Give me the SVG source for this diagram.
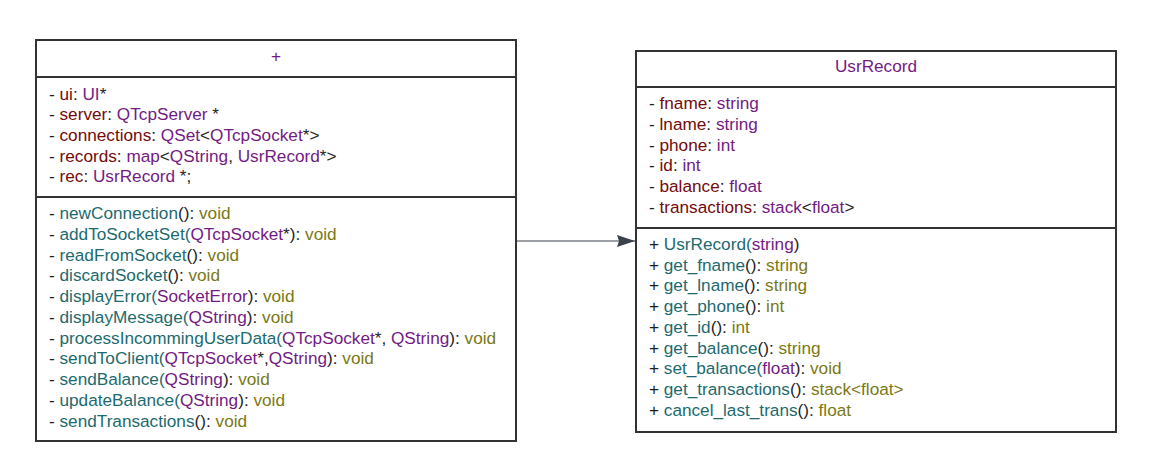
<svg xmlns="http://www.w3.org/2000/svg" width="1158" height="466" viewBox="0 0 1158 466">
<style>
.box{fill:#ffffff;stroke:#333333;stroke-width:2}
.div{stroke:#333333;stroke-width:2}
text{font-family:"Liberation Sans",Arial,sans-serif;font-size:17.2px;fill:#1e1e1e}
.title{text-anchor:middle}
.n{fill:#740a0a}
.ty{fill:#731b84}
.m{fill:#1d6a6e}
.r{fill:#7a7814}
.conn{stroke:#3a414a;stroke-width:1.2;fill:none}
</style>
<defs>
<marker id="arr" viewBox="0 0 18 12" refX="18" refY="6" markerWidth="18" markerHeight="12" markerUnits="userSpaceOnUse" orient="auto">
<path d="M0,0 L18,6 L0,12 L2,6 Z" fill="#3a414a"/>
</marker>
</defs>
<rect width="1158" height="466" fill="#ffffff"/>
<g id="connectors">
<line class="conn" x1="517" y1="241" x2="635" y2="241" marker-end="url(#arr)"/>
</g>
<g id="server-class">
<rect class="box" x="36" y="40" width="480" height="401"/>
<line class="div" x1="36" y1="77" x2="516" y2="77"/>
<line class="div" x1="36" y1="197" x2="516" y2="197"/>
<text class="title ty" x="276" y="62">+</text>
<text x="49" y="99.5">- <tspan class="n">ui</tspan>: <tspan class="ty">UI</tspan>*</text>
<text x="49" y="120.2">- <tspan class="n">server</tspan>: <tspan class="ty">QTcpServer</tspan> *</text>
<text x="49" y="140.9">- <tspan class="n">connections</tspan>: <tspan class="ty">QSet</tspan>&lt;<tspan class="ty">QTcpSocket</tspan>*&gt;</text>
<text x="49" y="161.6">- <tspan class="n">records</tspan>: <tspan class="ty">map</tspan>&lt;<tspan class="ty">QString</tspan>, <tspan class="ty">UsrRecord</tspan>*&gt;</text>
<text x="49" y="182.3">- <tspan class="n">rec</tspan>: <tspan class="ty">UsrRecord</tspan> *;</text>
<text x="49" y="219">- <tspan class="m">newConnection</tspan>(): <tspan class="r">void</tspan></text>
<text x="49" y="239.8">- <tspan class="m">addToSocketSet(</tspan><tspan class="ty">QTcpSocket</tspan>*): <tspan class="r">void</tspan></text>
<text x="49" y="260.5">- <tspan class="m">readFromSocket</tspan>(): <tspan class="r">void</tspan></text>
<text x="49" y="281.3">- <tspan class="m">discardSocket</tspan>(): <tspan class="r">void</tspan></text>
<text x="49" y="302.1">- <tspan class="m">displayError(</tspan><tspan class="ty">SocketError</tspan>): <tspan class="r">void</tspan></text>
<text x="49" y="322.9">- <tspan class="m">displayMessage(</tspan><tspan class="ty">QString</tspan>): <tspan class="r">void</tspan></text>
<text x="49" y="343.6">- <tspan class="m">processIncommingUserData(</tspan><tspan class="ty">QTcpSocket</tspan>*, <tspan class="ty">QString</tspan>): <tspan class="r">void</tspan></text>
<text x="49" y="364.4">- <tspan class="m">sendToClient(</tspan><tspan class="ty">QTcpSocket</tspan>*,<tspan class="ty">QString</tspan>): <tspan class="r">void</tspan></text>
<text x="49" y="385.2">- <tspan class="m">sendBalance(</tspan><tspan class="ty">QString</tspan>): <tspan class="r">void</tspan></text>
<text x="49" y="405.9">- <tspan class="m">updateBalance(</tspan><tspan class="ty">QString</tspan>): <tspan class="r">void</tspan></text>
<text x="49" y="426.7">- <tspan class="m">sendTransactions</tspan>(): <tspan class="r">void</tspan></text>
</g>
<g id="usrrecord-class">
<rect class="box" x="636" y="51" width="480" height="381"/>
<line class="div" x1="636" y1="87" x2="1116" y2="87"/>
<line class="div" x1="636" y1="228" x2="1116" y2="228"/>
<text class="title ty" x="876" y="72.3">UsrRecord</text>
<text x="649" y="109.3">- <tspan class="n">fname</tspan>: <tspan class="ty">string</tspan></text>
<text x="649" y="130">- <tspan class="n">lname</tspan>: <tspan class="ty">string</tspan></text>
<text x="649" y="150.7">- <tspan class="n">phone</tspan>: <tspan class="ty">int</tspan></text>
<text x="649" y="171.4">- <tspan class="n">id</tspan>: <tspan class="ty">int</tspan></text>
<text x="649" y="192">- <tspan class="n">balance</tspan>: <tspan class="ty">float</tspan></text>
<text x="649" y="212.7">- <tspan class="n">transactions</tspan>: <tspan class="ty">stack</tspan>&lt;<tspan class="ty">float</tspan>&gt;</text>
<text x="649" y="250">+ <tspan class="m">UsrRecord(</tspan><tspan class="ty">string</tspan>)</text>
<text x="649" y="270.7">+ <tspan class="m">get_fname</tspan>(): <tspan class="r">string</tspan></text>
<text x="649" y="291.4">+ <tspan class="m">get_lname</tspan>(): <tspan class="r">string</tspan></text>
<text x="649" y="312.1">+ <tspan class="m">get_phone</tspan>(): <tspan class="r">int</tspan></text>
<text x="649" y="332.8">+ <tspan class="m">get_id</tspan>(): <tspan class="r">int</tspan></text>
<text x="649" y="353.6">+ <tspan class="m">get_balance</tspan>(): <tspan class="r">string</tspan></text>
<text x="649" y="374.3">+ <tspan class="m">set_balance(</tspan><tspan class="ty">float</tspan>): <tspan class="r">void</tspan></text>
<text x="649" y="395">+ <tspan class="m">get_transactions</tspan>(): <tspan class="r">stack&lt;float&gt;</tspan></text>
<text x="649" y="415.7">+ <tspan class="m">cancel_last_trans</tspan>(): <tspan class="r">float</tspan></text>
</g>
</svg>
